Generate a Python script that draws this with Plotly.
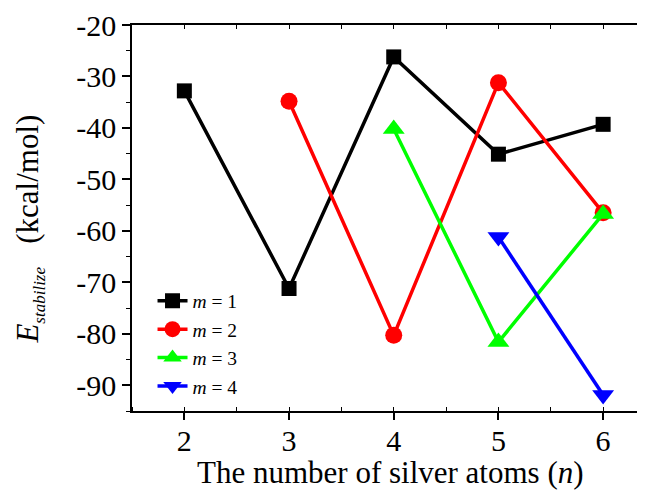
import plotly.graph_objects as go

n_m1 = [2, 3, 4, 5, 6]
e_m1 = [-32.8, -71.2, -26.2, -45.1, -39.3]
n_m2 = [3, 4, 5, 6]
e_m2 = [-34.8, -80.3, -31.2, -56.5]
n_m3 = [4, 5, 6]
e_m3 = [-40.2, -81.6, -56.7]
n_m4 = [5, 6]
e_m4 = [-61.2, -91.9]

series_names = ["<i>m</i> = 1", "<i>m</i> = 2", "<i>m</i> = 3", "<i>m</i> = 4"]
colors = ["#000000", "#ff0000", "#00ff00", "#0000ff"]
symbols = ["square", "circle", "triangle-up", "triangle-down"]
msizes = [15, 17, 19, 19]

x_ticks = [2, 3, 4, 5, 6]
y_ticks = [-90, -80, -70, -60, -50, -40, -30, -20]
y_ticktext = ["-90", "-80", "-70", "-60", "-50", "-40", "-30", "-20"]

FONT = "Times New Roman, Liberation Serif, serif"

fig = go.Figure()
for xs, ys, name, c, s, ms in zip([n_m1, n_m2, n_m3, n_m4], [e_m1, e_m2, e_m3, e_m4],
                                   series_names, colors, symbols, msizes):
    fig.add_trace(go.Scatter(x=xs, y=ys, mode="lines+markers", name=name,
                             line=dict(color=c, width=3.5),
                             marker=dict(symbol=s, size=ms, color=c, line=dict(width=0))))

# empty trace to show the top axis
fig.add_trace(go.Scatter(x=[], y=[], xaxis="x2", showlegend=False, hoverinfo="skip"))

fig.update_layout(
    width=637, height=483,
    margin=dict(l=124, r=0, t=17, b=80, autoexpand=False),
    paper_bgcolor="white", plot_bgcolor="white",
    font=dict(family=FONT, color="black", size=30),
    showlegend=True,
    legend=dict(x=0.04, y=0.335, xanchor="left", yanchor="top",
                bgcolor="rgba(0,0,0,0)", font=dict(size=19.5, family=FONT),
                tracegroupgap=0),
    xaxis=dict(range=[1.5, 6.4], tickvals=x_ticks, showgrid=False, zeroline=False, automargin=False,
               showline=True, linecolor="black", linewidth=1.5,
               ticks="outside", ticklen=7, tickwidth=1.5, tickcolor="black",
               ticklabelstandoff=-5,
               minor=dict(dtick=0.5, tick0=0, ticks="inside", ticklen=4, tickwidth=1.2, tickcolor="black", showgrid=False),
               tickfont=dict(size=30, family=FONT)),
    xaxis2=dict(range=[1.5, 6.4], overlaying="x", side="top", showgrid=False, zeroline=False, automargin=False,
                showline=True, linecolor="black", linewidth=1.5, showticklabels=False,
                tickvals=[1.5, 2, 2.5, 3, 3.5, 4, 4.5, 5, 5.5, 6],
                ticks="inside", ticklen=4, tickwidth=1.2, tickcolor="black"),
    yaxis=dict(range=[-95, -20], tickvals=y_ticks, ticktext=y_ticktext, showgrid=False, zeroline=False, automargin=False,
               showline=True, linecolor="black", linewidth=1.5,
               ticks="outside", ticklen=8, tickwidth=1.5, tickcolor="black",
               minor=dict(dtick=5, tick0=0, ticks="outside", ticklen=4, tickwidth=1.2, tickcolor="black", showgrid=False),
               tickfont=dict(size=30, family=FONT)),
    annotations=[
        dict(text="The number of silver atoms (<i>n</i>)", xref="paper", yref="paper",
             x=0.503, y=-0.208, xanchor="center", yanchor="bottom", showarrow=False,
             borderpad=0, font=dict(size=31, family=FONT, color="black")),
        dict(text="<i>E</i><sub><span style='font-size:17px'><i>stabilize</i></span></sub>&nbsp;&nbsp;&nbsp;(kcal/mol)",
             xref="paper", yref="paper", x=-0.2, y=0.471, xanchor="center", yanchor="middle",
             textangle=-90, showarrow=False, borderpad=0,
             font=dict(size=31, family=FONT, color="black")),
    ],
)

fig.write_html("out.html")
